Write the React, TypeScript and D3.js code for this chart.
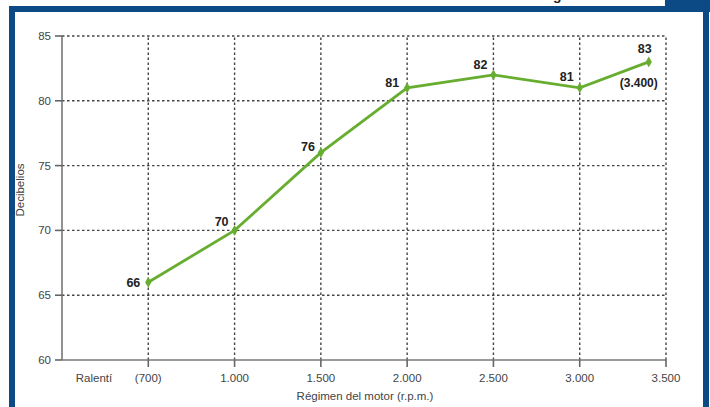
import React from "react";
import * as d3 from "d3";

const xTickPositions = [500, 1000, 1500, 2000, 2500, 3000, 3500];
const xTickLabels = ["(700)", "1.000", "1.500", "2.000", "2.500", "3.000", "3.500"];
const yTicks = [60, 65, 70, 75, 80, 85];
const pointPositions = [500, 1000, 1500, 2000, 2500, 3000, 3400];
const decibels = [66, 70, 76, 81, 82, 81, 83];
const pointLabels = ["66", "70", "76", "81", "82", "81", "83"];
const idleLabel = "Ralentí";
const extraLabel = "(3.400)";
const xTitle = "Régimen del motor (r.p.m.)";
const yTitle = "Decibelios";

const W = 710;
const H = 407;
const FONT = "'Liberation Sans', Arial, Helvetica, sans-serif";

export default function App() {
  const x = d3.scaleLinear().domain([0, 3500]).range([62, 666]);
  const y = d3.scaleLinear().domain([60, 85]).range([360, 36]);
  const line = d3
    .line<number>()
    .x((_, i) => x(pointPositions[i]))
    .y((d) => y(d));

  const labelOffsets: [number, number, string][] = [
    [-8, 5, "end"],
    [-6, -4, "end"],
    [-6, -2, "end"],
    [-8, -1, "end"],
    [-6, -6, "end"],
    [-6, -7, "end"],
    [-4, -9, "middle"],
  ];

  const diamond = d3.symbol().type(d3.symbolDiamond).size(34)();

  return (
    <svg
      width={W}
      height={H}
      style={{ position: "absolute", left: 0, top: 0, background: "#fff" }}
      fontFamily={FONT}
    >
      {/* frame */}
      <rect x={9} y={6} width={W - 9} height={6} fill="#0b4a85" />
      <rect x={665} y={0} width={45} height={12} fill="#0b4a85" />
      <rect x={9} y={6} width={6} height={H - 6} fill="#0b4a85" />
      <rect x={703} y={0} width={6} height={H} fill="#0b4a85" />
      <text x={553} y={0} fontSize={14} fontWeight="bold" fill="#222">g</text>

      {/* grid */}
      {yTicks.filter((t) => t > 60).map((t) => (
        <line
          key={"h" + t}
          x1={x(0)}
          x2={x(3500)}
          y1={y(t)}
          y2={y(t)}
          stroke="#444"
          strokeWidth={1.4}
          strokeDasharray="2.5,2.5"
        />
      ))}
      {xTickPositions.map((p) => (
        <line
          key={"v" + p}
          x1={x(p)}
          x2={x(p)}
          y1={y(60)}
          y2={y(85)}
          stroke="#444"
          strokeWidth={1.4}
          strokeDasharray="2.5,2.5"
        />
      ))}

      {/* axes */}
      <line x1={x(0)} x2={x(0)} y1={y(85)} y2={y(60)} stroke="#777" strokeWidth={1.6} />
      <line x1={x(0)} x2={x(3500)} y1={y(60)} y2={y(60)} stroke="#777" strokeWidth={1.6} />
      {yTicks.map((t) => (
        <g key={"yt" + t}>
          <line x1={55} x2={x(0)} y1={y(t)} y2={y(t)} stroke="#666" strokeWidth={1.6} />
          <text x={51} y={y(t) + 4} fontSize={11.5} fill="#444" textAnchor="end">
            {t}
          </text>
        </g>
      ))}
      {xTickPositions.map((p, i) => (
        <g key={"xt" + p}>
          <line x1={x(p)} x2={x(p)} y1={y(60)} y2={y(60) + 7} stroke="#666" strokeWidth={1.6} />
          <text x={x(p)} y={382} fontSize={11.5} fill="#444" textAnchor="middle">
            {xTickLabels[i]}
          </text>
        </g>
      ))}
      <text x={94} y={382} fontSize={11.5} fill="#444" textAnchor="middle">
        {idleLabel}
      </text>
      <text x={365} y={400} fontSize={11.5} fill="#444" textAnchor="middle">
        {xTitle}
      </text>
      <text
        transform={`translate(24,190) rotate(-90)`}
        fontSize={11.5}
        fill="#444"
        textAnchor="middle"
      >
        {yTitle}
      </text>

      {/* series */}
      <path d={line(decibels) || ""} fill="none" stroke="#67ad2f" strokeWidth={2.8} />
      {decibels.map((v, i) => (
        <path
          key={"m" + i}
          d={diamond || ""}
          transform={`translate(${x(pointPositions[i])},${y(v)})`}
          fill="#67ad2f"
        />
      ))}
      {decibels.map((v, i) => (
        <text
          key={"l" + i}
          x={x(pointPositions[i]) + labelOffsets[i][0]}
          y={y(v) + labelOffsets[i][1]}
          fontSize={12.5}
          fontWeight="bold"
          fill="#222"
          textAnchor={labelOffsets[i][2]}
        >
          {pointLabels[i]}
        </text>
      ))}
      <text
        x={x(3400) - 10}
        y={y(83) + 25}
        fontSize={12}
        fontWeight="bold"
        fill="#222"
        textAnchor="middle"
      >
        {extraLabel}
      </text>
    </svg>
  );
}
